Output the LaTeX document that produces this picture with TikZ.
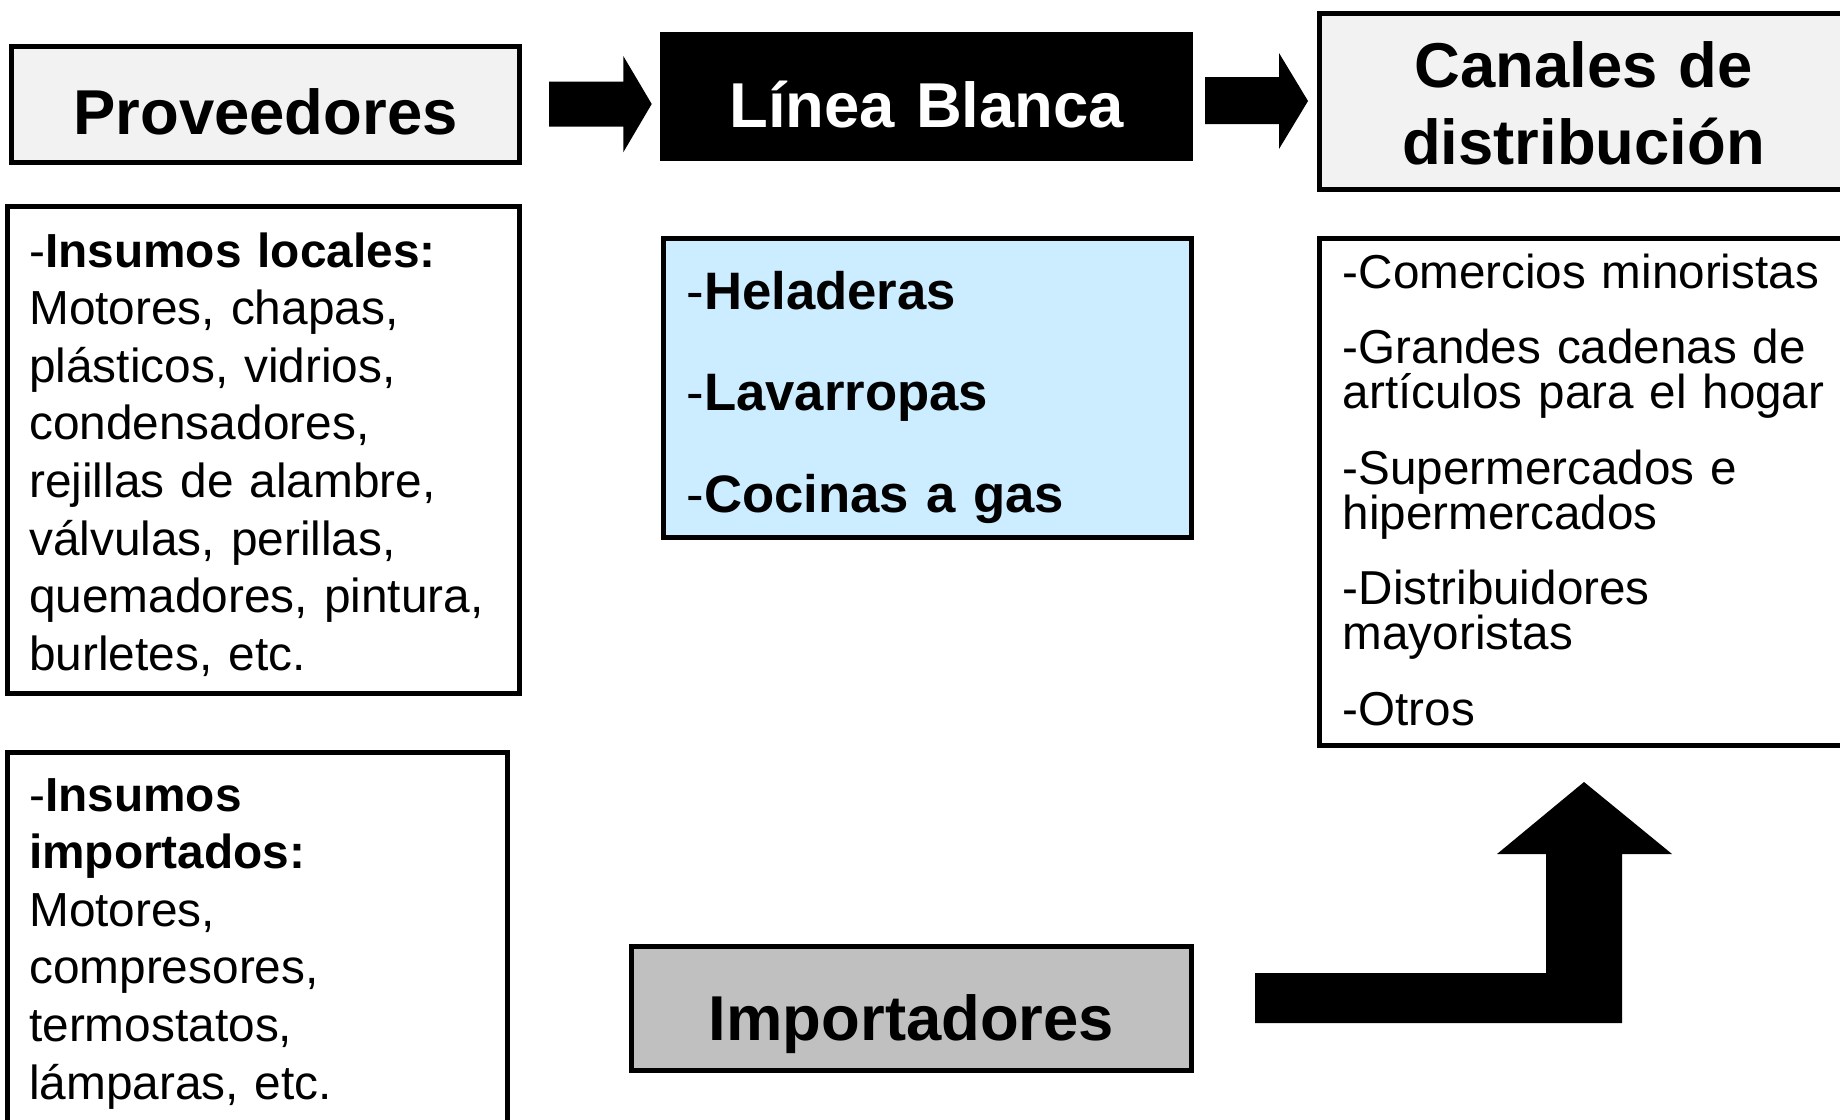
\documentclass[tikz,border=0pt]{standalone}
\usepackage{fontspec}
\setmainfont{Liberation Sans}
\definecolor{boxgray}{HTML}{F2F2F2}
\definecolor{lightblue}{HTML}{CCECFF}
\definecolor{impgray}{HTML}{C0C0C0}
\lineskiplimit=-20pt

\begin{document}
\begin{tikzpicture}[x=0.5pt, y=-0.5pt,
    box/.style={draw, line width=2.5pt, outer sep=0pt, anchor=north west, inner ysep=0pt},
    titlebox/.style={box, align=center, inner xsep=0pt,
        font=\fontsize{31.7}{38.35}\selectfont\bfseries},
    listbox/.style={box, align=left, inner xsep=11pt,
        font=\fontsize{23.9}{28.8}\selectfont},
    blockarrow/.style={fill=black}]
    % Page frame
    \useasboundingbox (0,0) rectangle (1840,1119);
    \clip (0,0) rectangle (1840,1119);
    \fill[white] (0,0) rectangle (1840,1119);

    % Top row
    \node[titlebox, fill=boxgray, text width=253.7pt, text height=43.9pt, text depth=14.25pt]
        (prov) at (11.8,46.2) {Proveedores};
    \node[titlebox, fill=black, text=white, text width=263.85pt, text height=46.4pt, text depth=15.6pt]
        (linea) at (662.8,34.5) {Línea Blanca};
    \node[titlebox, fill=boxgray, text width=263.7pt, text height=36.9pt, text depth=50.85pt]
        (canales) at (1319.8,13.5) {Canales de\\distribución};

    % Arrows between the top boxes
    \fill[blockarrow] (549,81.7) -- (623.3,81.7) -- (623.3,56) -- (651.7,104) -- (623.3,152.3) -- (623.3,126.7) -- (549,126.7) -- cycle;
    \fill[blockarrow] (1205,77) -- (1279,77) -- (1279,53) -- (1308,101) -- (1279,149) -- (1279,124) -- (1205,124) -- cycle;

    % Inputs
    \node[listbox, text width=234pt, text height=30.25pt, text depth=213pt]
        (locales) at (7.2,206.5)
        {-\textbf{Insumos locales:}\\Motores, chapas,\\plásticos, vidrios,\\condensadores,\\rejillas de alambre,\\válvulas, perillas,\\quemadores, pintura,\\burletes, etc.};
    \node[listbox, text width=228pt, text height=29.25pt, text depth=180pt]
        (importados) at (7.2,752.5)
        {-\textbf{Insumos}\\\textbf{importados:}\\Motores,\\compresores,\\termostatos,\\lámparas, etc.};

    % Products
    \node[listbox, fill=lightblue, inner xsep=11.5pt, text width=240.85pt, text height=35.1pt, text depth=114.25pt,
        font=\fontsize{26.35}{50.85}\selectfont]
        (productos) at (663.5,238.8)
        {-\textbf{Heladeras}\\-\textbf{Lavarropas}\\-\textbf{Cocinas a gas}};

    % Channels
    \node[listbox, inner xsep=11.5pt, text width=270pt, text height=24.6pt, text depth=228.5pt,
        font=\fontsize{23.8}{22.5}\selectfont]
        (comercios) at (1319.8,238.8)
        {-Comercios minoristas\\[15.25pt]-Grandes cadenas de\\artículos para el hogar\\[15.25pt]-Supermercados e\\hipermercados\\[15.25pt]-Distribuidores\\mayoristas\\[15.25pt]-Otros};

    % Importers
    \node[titlebox, fill=impgray, text width=279.7pt, text height=47pt, text depth=15.05pt]
        (importadores) at (631.8,946.7) {Importadores};
    \fill[blockarrow] (1255,973) -- (1546,973) -- (1546,854) -- (1497,854) -- (1584,782) -- (1672,854)
        -- (1622,854) -- (1622,1023) -- (1255,1023) -- cycle;
\end{tikzpicture}
\end{document}
